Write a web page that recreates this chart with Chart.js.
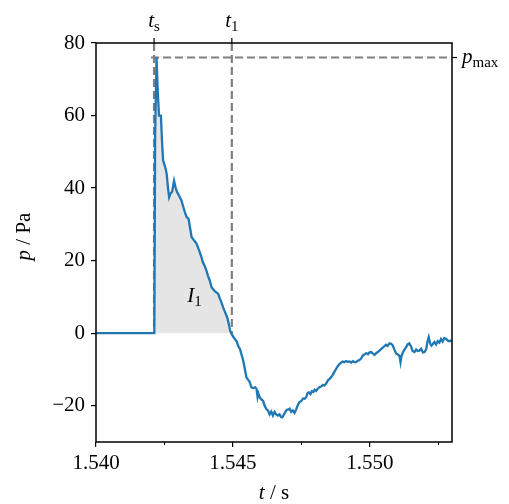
<!DOCTYPE html>
<html>
<head>
<meta charset="utf-8">
<script src="https://cdn.jsdelivr.net/npm/chart.js@4"></script>
<style>
  html, body { margin: 0; padding: 0; background: #fff; }
  #wrap { width: 509px; height: 504px; }
</style>
</head>
<body>
<div id="wrap"><canvas id="c"></canvas></div>
<script>
// time offsets in ms after 1.540 s, pressure in Pa
const tMs = [0, 2.13, 2.14, 2.16, 2.21, 2.26, 2.30, 2.37, 2.41, 2.45, 2.52, 2.58, 2.63, 2.67, 2.72, 2.78, 2.85, 2.91, 2.96, 3.04,
  3.12, 3.20, 3.26, 3.31, 3.38, 3.44, 3.49, 3.56, 3.62, 3.67, 3.73, 3.79, 3.85, 3.90, 3.97, 4.03, 4.09, 4.15, 4.22, 4.30,
  4.38, 4.46, 4.52, 4.58, 4.64, 4.70, 4.79, 4.85, 4.90, 4.95, 5.03, 5.13, 5.20, 5.26, 5.31, 5.37, 5.43, 5.49, 5.55, 5.61,
  5.67, 5.74, 5.81, 5.86, 5.90, 5.93, 5.98, 6.04, 6.10, 6.16, 6.22, 6.28, 6.34, 6.40, 6.46, 6.52, 6.58, 6.64, 6.70, 6.76,
  6.80, 6.86, 6.92, 6.97, 7.03, 7.07, 7.13, 7.19, 7.25, 7.31, 7.37, 7.43, 7.50, 7.56, 7.62, 7.68, 7.72, 7.77, 7.83, 7.88,
  7.94, 7.98, 8.04, 8.10, 8.16, 8.22, 8.28, 8.34, 8.41, 8.47, 8.53, 8.59, 8.65, 8.71, 8.77, 8.83, 8.89, 8.95, 9.01, 9.07,
  9.13, 9.19, 9.26, 9.32, 9.38, 9.44, 9.50, 9.56, 9.62, 9.68, 9.74, 9.80, 9.87, 9.93, 9.99, 10.05, 10.11, 10.17, 10.23, 10.29,
  10.35, 10.41, 10.47, 10.53, 10.59, 10.65, 10.72, 10.78, 10.84, 10.90, 10.96, 11.02, 11.08, 11.12, 11.15, 11.20, 11.26, 11.32, 11.38, 11.44,
  11.50, 11.56, 11.63, 11.69, 11.75, 11.81, 11.87, 11.94, 12.00, 12.06, 12.10, 12.15, 12.20, 12.25, 12.30, 12.36, 12.42, 12.48, 12.54, 12.60,
  12.66, 12.72, 12.78, 12.84, 12.90, 13.00];
const pressure = [0, 0, 0, 55, 76, 66, 60, 60, 53, 47.6, 46, 44, 40, 37.5, 38.5, 39, 42, 40, 38.9, 37.8,
  36.6, 34.5, 33, 32, 31.5, 28.8, 26.5, 25.8, 25.2, 24.7, 23.5, 22.3, 21, 19.6, 18.5, 17.3, 15.8, 14.6, 12.7, 11.9,
  11.3, 10.9, 9.6, 8.5, 7.2, 6, 4.4, 2.5, 0.7, -0.2, -1.2, -2.2, -3.6, -4.4, -5.8, -7.4, -9.6, -12.1, -12.8, -13.4,
  -14.9, -15.1, -14.9, -15.3, -17.6, -16.6, -17.7, -18.3, -18.6, -20.0, -20.9, -21.3, -22.4, -21.6, -22.7, -21.7, -22.4, -22.7, -22.4, -23.1,
  -23.2, -22.5, -21.6, -21.1, -21.0, -20.8, -21.7, -21.3, -22.0, -21.0, -19.8, -19.0, -18.7, -18.0, -18.1, -17.6, -16.6, -16.3, -16.8, -16.0,
  -16.2, -15.6, -15.9, -15.3, -14.9, -14.7, -14.3, -14.4, -13.8, -13.0, -12.6, -12.1, -11.4, -10.6, -9.8, -9.1, -8.5, -8.1, -7.8, -8.0,
  -7.7, -7.9, -7.8, -8.1, -7.7, -8.0, -8.0, -7.6, -7.4, -7.0, -6.2, -5.9, -5.5, -5.8, -5.3, -5.2, -5.6, -6.0, -5.5, -5.2,
  -4.8, -4.4, -4.0, -3.6, -3.2, -3.5, -2.8, -2.9, -3.4, -4.6, -5.6, -5.9, -6.2, -8.0, -6.5, -5.4, -4.6, -3.9, -3.1, -2.8,
  -3.6, -4.9, -5.2, -4.5, -4.9, -4.8, -4.3, -5.3, -5.2, -4.4, -2.4, -1.1, -2.8, -3.4, -3.0, -2.4, -3.1, -2.2, -2.6, -1.6,
  -2.3, -1.3, -1.5, -2.0, -2.2, -2.0];

const xTicks = [1.540, 1.545, 1.550];
const xMinor = [1.5425, 1.5475, 1.5525];
const yTicks = [-20, 0, 20, 40, 60, 80];
const tS = 1.54212;
const t1 = 1.54496;
const pMax = 76;

const serif = '"Liberation Serif", "DejaVu Serif", serif';
const times = tMs.map(v => 1.540 + v / 1000);
const curve = times.map((t, i) => ({x: t, y: pressure[i]}));
const area = curve.filter(p => p.x >= tS && p.x <= t1 + 0.00001);

const marks = {
  id: 'marks',
  beforeDatasetsDraw(chart) {
    // dashed guide lines
    const {ctx, scales: {x, y}, chartArea: a} = chart;
    ctx.save();
    ctx.strokeStyle = '#7f7f7f';
    ctx.lineWidth = 2.2;
    ctx.setLineDash([8, 4]);
    const xs = x.getPixelForValue(tS), x1 = x.getPixelForValue(t1);
    const y0 = y.getPixelForValue(0), ym = y.getPixelForValue(pMax);
    ctx.beginPath(); ctx.moveTo(xs, a.top); ctx.lineTo(xs, y0); ctx.stroke();
    ctx.beginPath(); ctx.moveTo(x1, a.top); ctx.lineTo(x1, y0); ctx.stroke();
    ctx.beginPath(); ctx.moveTo(xs - 3, ym); ctx.lineTo(a.right, ym); ctx.stroke();
    ctx.restore();
  },
  afterDraw(chart) {
    const {ctx, scales: {x, y}, chartArea: a} = chart;
    ctx.save();
    ctx.strokeStyle = '#000';
    ctx.lineWidth = 1.5;
    ctx.strokeRect(a.left, a.top, a.right - a.left, a.bottom - a.top);

    // minor x ticks
    ctx.lineWidth = 1;
    xMinor.forEach(v => {
      const px = Math.round(x.getPixelForValue(v)) + 0.5;
      ctx.beginPath(); ctx.moveTo(px, a.bottom); ctx.lineTo(px, a.bottom + 3); ctx.stroke();
    });

    // top ticks for t_s, t_1 and right tick for p_max
    const xs = x.getPixelForValue(tS), x1 = x.getPixelForValue(t1);
    const ym = y.getPixelForValue(pMax);
    ctx.lineWidth = 1.2;
    [xs, x1].forEach(px => {
      ctx.beginPath(); ctx.moveTo(px, a.top); ctx.lineTo(px, a.top - 5); ctx.stroke();
    });
    ctx.beginPath(); ctx.moveTo(a.right, ym); ctx.lineTo(a.right + 5, ym); ctx.stroke();

    ctx.fillStyle = '#000';
    ctx.textBaseline = 'alphabetic';
    const sub = (base, s, px, py, align) => {
      ctx.font = 'italic 21px ' + serif;
      const w1 = ctx.measureText(base).width;
      ctx.font = '15px ' + serif;
      const w2 = ctx.measureText(s).width;
      let left = px;
      if (align === 'center') left = px - (w1 + w2) / 2;
      ctx.font = 'italic 21px ' + serif;
      ctx.textAlign = 'left';
      ctx.fillText(base, left, py);
      ctx.font = '15px ' + serif;
      ctx.fillText(s, left + w1, py + 4);
    };
    sub('t', 's', xs, 27, 'center');
    sub('t', '1', x1, 27, 'center');
    sub('p', 'max', a.right + 10, 63, 'left');
    sub('I', '1', x.getPixelForValue(1.5436), 302, 'center');

    // axis titles
    const xt = (a.left + a.right) / 2;
    ctx.font = 'italic 21px ' + serif;
    const wt = ctx.measureText('t').width;
    ctx.font = '21px ' + serif;
    const wr = ctx.measureText(' / s').width;
    let lx = xt - (wt + wr) / 2;
    ctx.font = 'italic 21px ' + serif;
    ctx.fillText('t', lx, 499);
    ctx.font = '21px ' + serif;
    ctx.fillText(' / s', lx + wt, 499);

    ctx.translate(30, (a.top + a.bottom) / 2 - 6);
    ctx.rotate(-Math.PI / 2);
    ctx.font = 'italic 21px ' + serif;
    const wp = ctx.measureText('p').width;
    ctx.font = '21px ' + serif;
    const wpa = ctx.measureText(' / Pa').width;
    lx = -(wp + wpa) / 2;
    ctx.font = 'italic 21px ' + serif;
    ctx.fillText('p', lx, 0);
    ctx.font = '21px ' + serif;
    ctx.fillText(' / Pa', lx + wp, 0);
    ctx.restore();
  }
};

new Chart(document.getElementById('c'), {
  type: 'line',
  data: {
    datasets: [
      {
        data: curve,
        borderColor: '#1f77b4',
        borderWidth: 2.3,
        pointRadius: 0,
        tension: 0,
        fill: false,
        order: 0
      },
      {
        data: area,
        borderWidth: 0,
        borderColor: 'rgba(0,0,0,0)',
        backgroundColor: '#e5e5e5',
        pointRadius: 0,
        tension: 0,
        fill: 'origin',
        order: 1
      }
    ]
  },
  options: {
    responsive: true,
    maintainAspectRatio: false,
    animation: false,
    layout: {padding: {left: 0, right: 57, top: 43, bottom: 0}},
    plugins: {legend: {display: false}, tooltip: {enabled: false}},
    scales: {
      x: {
        type: 'linear',
        min: 1.540,
        max: 1.553,
        afterBuildTicks: s => { s.ticks = xTicks.map(v => ({value: v})); },
        afterFit: s => { s.height = 62; },
        grid: {drawOnChartArea: false, drawTicks: true, tickLength: 5, color: '#000', lineWidth: 1.2},
        border: {display: false},
        ticks: {
          color: '#000',
          font: {family: serif, size: 21},
          padding: 4,
          maxRotation: 0,
          callback: v => v.toFixed(3)
        }
      },
      y: {
        min: -30,
        max: 80,
        afterBuildTicks: s => { s.ticks = yTicks.map(v => ({value: v})); },
        afterFit: s => { s.width = 96; },
        grid: {drawOnChartArea: false, drawTicks: true, tickLength: 5, color: '#000', lineWidth: 1.2},
        border: {display: false},
        ticks: {
          color: '#000',
          font: {family: serif, size: 21},
          padding: 6,
          callback: v => v < 0 ? '\u2212' + Math.abs(v) : String(v)
        }
      }
    }
  },
  plugins: [marks]
});
</script>
</body>
</html>
